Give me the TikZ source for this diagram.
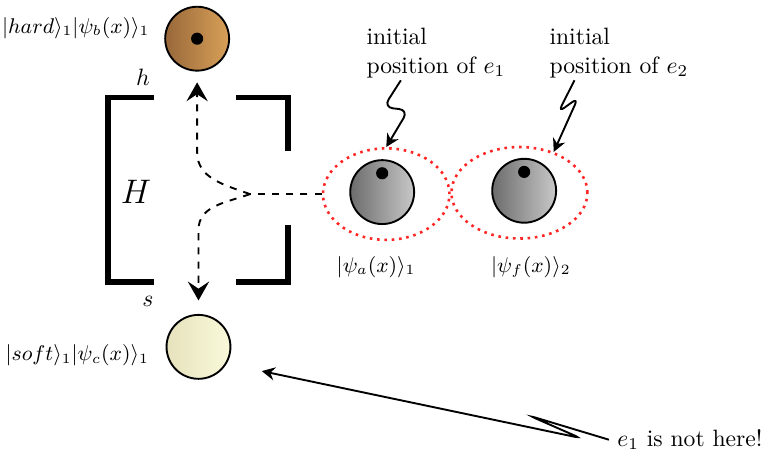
\documentclass[tikz,border=0pt]{standalone}
\usepackage{amsmath}
\usepackage{amssymb}
\usepackage{tikz}
\usetikzlibrary{arrows.meta,shapes.geometric}

\definecolor{hardL}{RGB}{152,104,58}
\definecolor{hardR}{RGB}{216,160,88}
\definecolor{softL}{RGB}{230,226,188}
\definecolor{softR}{RGB}{249,249,218}
\definecolor{elecL}{RGB}{108,108,108}
\definecolor{elecR}{RGB}{200,200,200}

\begin{document}
\begin{tikzpicture}[
    ball/.style={circle, draw, thick, minimum size=0.95cm, inner sep=0pt},
    orbit/.style={ellipse, draw=red!85, dotted, line width=1.1pt, 
                  minimum height=1.36cm, inner sep=0pt},
    ket/.style={font=\small, inner sep=0pt},
    bracket/.style={line width=2.2pt},
    track/.style={dashed, thick, -{Stealth[length=8pt, width=9pt, inset=3pt]}},
    bolt/.style={thick, rounded corners=4pt, -{Stealth[length=5.5pt, width=5.5pt]}}
]
\useasboundingbox (0,0) rectangle (11.31,6.805);

% --- Output states ---
\node[ball, left color=hardL, right color=hardR] (hard) at (2.93, 6.23) {};
\fill (hard) circle (0.09);
\node[ket, anchor=east] (hardlab) at (2.23, 6.39) 
    {$|hard\rangle_1|\psi_b(x)\rangle_1$};

\node[ball, left color=softL, right color=softR] (soft) at (2.95, 1.65) {};
\node[ket, anchor=east] (softlab) at (2.22, 1.52) 
    {$|soft\rangle_1|\psi_c(x)\rangle_1$};

% --- Hardness box H ---
\draw[bracket] (2.29, 5.36) -- (1.605, 5.36) -- (1.605, 2.615) -- (2.29, 2.615);
\draw[bracket] (3.51, 5.36) -- (4.28, 5.36) -- (4.28, 4.56);
\draw[bracket] (4.28, 3.46) -- (4.28, 2.615) -- (3.51, 2.615);
\node[font=\Large] (Hlab) at (2.02, 3.95) {$H$};
\node (hlab) at (2.125, 5.65) {$h$};
\node (slab) at (2.2, 2.32) {$s$};

% --- Electrons and their orbits ---
\node[orbit, minimum width=1.88cm] (orb1) at (5.74, 3.92) {};
\node[orbit, minimum width=2.02cm] (orb2) at (7.72, 3.94) {};

\node[ball, left color=elecL, right color=elecR] (ea) at (5.68, 3.95) {};
\fill ([yshift=0.28cm]ea.center) circle (0.09);
\node[ball, left color=elecL, right color=elecR] (ef) at (7.79, 3.97) {};
\fill ([yshift=0.28cm]ef.center) circle (0.09);

\node[ket] (ealab) at (5.59, 2.835) {$|\psi_a(x)\rangle_1$};
\node[ket] (eflab) at (7.89, 2.835) {$|\psi_f(x)\rangle_2$};

% Paths through the box
\coordinate (split) at (3.715, 3.92);
\draw[dashed, thick] (orb1.west) -- (split);
\draw[track] (split) to[out=160, in=-90] ([yshift=-1.2cm]hard.south) 
    -- ([yshift=-0.16cm]hard.south);
\draw[track] (split) to[out=200, in=90] ([yshift=1.25cm]soft.north) 
    -- ([yshift=0.2cm]soft.north);

% --- Annotations ---
\node[align=left, inner sep=0pt, anchor=north west] (ini1) at (5.44, 6.39) 
    {initial\\position of $e_1$};
\node[align=left, inner sep=0pt, anchor=north west] (ini2) at (8.16, 6.39) 
    {initial\\position of $e_2$};

\draw[bolt] ([xshift=-0.52cm, yshift=-0.03cm]ini1.south) -- (5.70, 5.21) 
    -- (6.07, 5.17) -- (orb1.north);
\draw[bolt, rounded corners=3pt] ([xshift=-0.66cm, yshift=-0.03cm]ini2.south) 
    -- (8.30, 5.14) -- (8.59, 5.35) -- (orb2.50);

\node[anchor=west] (nothere) at (9.05, 0.27) {$e_1$ is not here!};
\coordinate (miss) at (3.89, 1.29);
\draw[bolt, rounded corners=2pt] (nothere.west) -- (7.875, 0.624) 
    -- (8.62, 0.297) -- (miss);

\end{tikzpicture}
\end{document}
